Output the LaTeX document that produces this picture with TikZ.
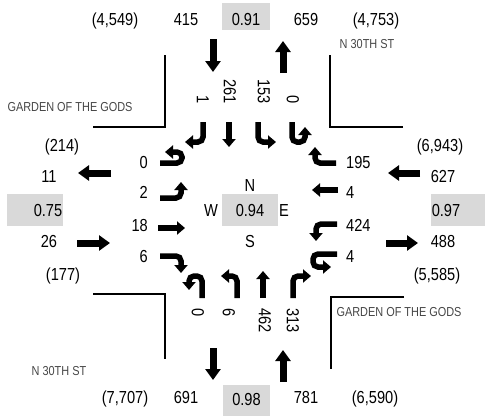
\documentclass[tikz,border=0pt]{standalone}
\usepackage{fontspec}
\setmainfont{Liberation Sans}[FakeStretch=0.84]
\usetikzlibrary{arrows.meta}
\definecolor{boxgray}{RGB}{217,217,217}
\definecolor{txtgray}{RGB}{70,70,70}
\begin{document}
\begin{tikzpicture}[x=1bp,y=-1bp,
  num/.style={font=\fontsize{17.4bp}{20bp}\selectfont, inner sep=0pt, text height=12.5bp, text depth=0bp},
  lbl/.style={font=\fontsize{13bp}{15bp}\selectfont, text=txtgray, inner sep=0pt, text height=9.3bp, text depth=0bp},
  gbox/.style={fill=boxgray},
  inarr/.style={line width=5.5bp, rounded corners=5bp, -{Triangle[width=13bp,length=8bp]}},
  outarr/.style={line width=7bp, -{Triangle[width=15bp,length=11bp]}},
  curb/.style={line width=1.8bp},
  vlab/.style={num, rotate=-90}]
\useasboundingbox (0,0) rectangle (485,416);

% gray boxes
\fill[gbox] (222,3) rectangle (270,30);
\fill[gbox] (223,385) rectangle (270,416);
\fill[gbox] (7,194) rectangle (63,226);
\fill[gbox] (431,194) rectangle (485,226);
\fill[gbox] (222,194) rectangle (278,226);

% top row
\node[num] (t1) at (115,19.5) {(4,549)};
\node[num] (t2) at (186,19.5) {415};
\node[num] (t3) at (246,19.5) {0.91};
\node[num] (t4) at (306,19.5) {659};
\node[num] (t5) at (376,19.5) {(4,753)};
% bottom row
\node[num] (b1) at (125,397) {(7,707)};
\node[num] (b2) at (186,397) {691};
\node[num] (b3) at (246.5,399) {0.98};
\node[num] (b4) at (306,397) {781};
\node[num] (b5) at (375,397) {(6,590)};
% left outer
\node[num] (l1) at (62,145) {(214)};
\node[num] (l2) at (49,176) {11};
\node[num] (l3) at (48,210) {0.75};
\node[num] (l4) at (49,241) {26};
\node[num] (l5) at (63,274) {(177)};
% right outer
\node[num] (r1) at (440,145) {(6,943)};
\node[num] (r2) at (443,176) {627};
\node[num] (r3) at (446,210) {0.97};
\node[num] (r4) at (443,241) {488};
\node[num] (r5) at (437,274) {(5,585)};
% center
\node[num] (cN) at (250,185) {N};
\node[num] (cS) at (250,241) {S};
\node[num] (cW) at (211,210) {W};
\node[num] (cE) at (284,210) {E};
\node[num] (cV) at (250,210) {0.94};

% street names
\node[lbl] (s1) at (367,44) {N 30TH ST};
\node[lbl] (s2) at (59,371) {N 30TH ST};
\node[lbl] (s3) at (70,107) {GARDEN OF THE GODS};
\node[lbl] (s4) at (399,312) {GARDEN OF THE GODS};

% curbs
\draw[curb] (93,127) -- (165,127) -- (165,55);
\draw[curb] (403,127) -- (330,127) -- (330,55);
\draw[curb] (93,294) -- (165,294) -- (165,359);
\draw[curb] (404,297) -- (331,297) -- (331,369);

% outer arrows
\draw[outarr] (213,39) -- (213,72);
\draw[outarr] (283,73) -- (283,41);
\draw[outarr] (111,173) -- (78,173);
\draw[outarr] (77,243) -- (110,243);
\draw[outarr] (420,173) -- (388,173);
\draw[outarr] (386,243) -- (418,243);
\draw[outarr] (213,348) -- (213,380);
\draw[outarr] (283,382) -- (283,350);

% southbound (top)
\node[vlab, anchor=east] (sb1) at (203,104) {1};
\node[vlab, anchor=east] (sb2) at (230,104) {261};
\node[vlab, anchor=east] (sb3) at (264,104) {153};
\node[vlab, anchor=east] (sb4) at (293,104) {0};
\draw[inarr] (203,122) -- (203,142) -- (185,142);
\draw[inarr] (229,122) -- (229,147);
\draw[inarr] (258,122) -- (258,142) -- (276,142);
\draw[inarr] (292,122) -- (292,142) -- (305,142) -- (305,127);

% eastbound (left)
\node[num, anchor=east] (eb1) at (148,162) {0};
\node[num, anchor=east] (eb2) at (148,192) {2};
\node[num, anchor=east] (eb3) at (148,225) {18};
\node[num, anchor=east] (eb4) at (148,256) {6};
\draw[inarr] (160,163) -- (182,163) -- (182,152) -- (165,152);
\draw[inarr] (160,198) -- (181,198) -- (181,182);
\draw[inarr] (158,228) -- (185,228);
\draw[inarr] (160,256) -- (181,256) -- (181,273);

% westbound (right)
\node[num, anchor=west] (wb1) at (346,162) {195};
\node[num, anchor=west] (wb2) at (346,192) {4};
\node[num, anchor=west] (wb3) at (346,225) {424};
\node[num, anchor=west] (wb4) at (346,256) {4};
\draw[inarr] (336,163) -- (315,163) -- (315,147);
\draw[inarr] (338,190) -- (312,190);
\draw[inarr] (337,224) -- (316,224) -- (316,241);
\draw[inarr] (337,254) -- (313,254) -- (313,267) -- (331,267);

% northbound (bottom)
\node[vlab, anchor=west] (nb1) at (198,308) {0};
\node[vlab, anchor=west] (nb2) at (229,308) {6};
\node[vlab, anchor=west] (nb3) at (265,308) {462};
\node[vlab, anchor=west] (nb4) at (293,308) {313};
\draw[inarr] (202,298) -- (202,276) -- (189,276) -- (189,290);
\draw[inarr] (237,298) -- (237,276) -- (221,276);
\draw[inarr] (263,298) -- (263,271);
\draw[inarr] (293,298) -- (293,276) -- (311,276);
\end{tikzpicture}
\end{document}
